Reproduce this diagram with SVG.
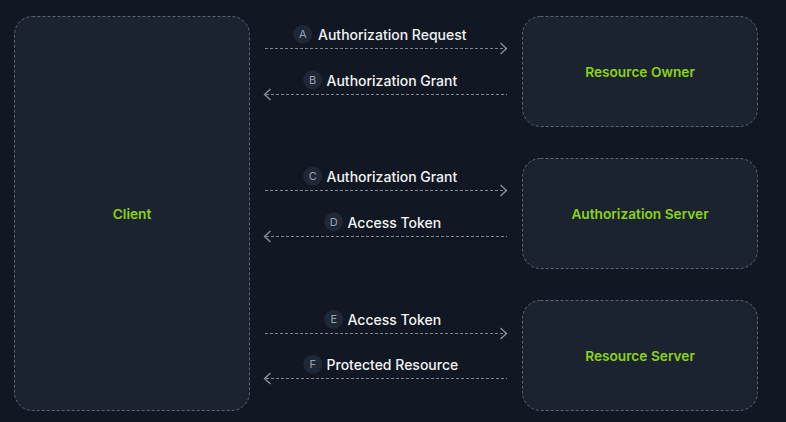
<svg xmlns="http://www.w3.org/2000/svg" width="786" height="422" viewBox="0 0 786 422">
<style>
.bg{fill:#111824}
.node rect{fill:#1b2331;stroke:#5b6575;stroke-width:1;stroke-dasharray:3 2}
.node text{fill:#8cd412;font-family:Inter,"Liberation Sans",sans-serif;font-size:13.7px;font-weight:600;text-anchor:middle;dominant-baseline:central}
.conn line{stroke:#7b8594;stroke-width:1;stroke-dasharray:3 2}
.conn path{fill:none;stroke:#8a94a3;stroke-width:1.3}
.badge circle{fill:#1f2836}
.badge text{fill:#9aa3b2;font-family:Inter,"Liberation Sans",sans-serif;font-size:11px;text-anchor:middle;dominant-baseline:central}
.lbl{fill:#f1f3f5;font-family:Inter,"Liberation Sans",sans-serif;font-size:14px;font-weight:500}
</style>
<rect class="bg" x="0" y="0" width="786" height="422"/>
<g id="client" class="node"><rect x="14.5" y="16.5" width="235" height="394" rx="18"/><text x="132" y="213.5">Client</text></g>
<g id="resource-owner" class="node"><rect x="522.5" y="16.5" width="235" height="110" rx="18"/><text x="640" y="71.5">Resource Owner</text></g>
<g id="authorization-server" class="node"><rect x="522.5" y="158.5" width="235" height="110" rx="18"/><text x="640" y="213.5">Authorization Server</text></g>
<g id="resource-server" class="node"><rect x="522.5" y="300.5" width="235" height="110" rx="18"/><text x="640" y="355.5">Resource Server</text></g>
<g id="connectors" class="conn">
<line x1="265" y1="48.5" x2="506" y2="48.5"/><path d="M500.5 43 L506.5 48.5 L500.5 54"/>
<line x1="266" y1="94.5" x2="507" y2="94.5"/><path d="M270.5 89 L264.5 94.5 L270.5 100"/>
<line x1="265" y1="190.5" x2="506" y2="190.5"/><path d="M500.5 185 L506.5 190.5 L500.5 196"/>
<line x1="266" y1="236.5" x2="507" y2="236.5"/><path d="M270.5 231 L264.5 236.5 L270.5 242"/>
<line x1="265" y1="333.5" x2="506" y2="333.5"/><path d="M500.5 328 L506.5 333.5 L500.5 339"/>
<line x1="266" y1="378.5" x2="507" y2="378.5"/><path d="M270.5 373 L264.5 378.5 L270.5 384"/>
</g>
<g id="labels">
<g class="badge"><circle cx="302.7" cy="34.3" r="9.5"/><text x="302.7" y="34.3">A</text></g><text class="lbl" x="318" y="40">Authorization Request</text>
<g class="badge"><circle cx="312.7" cy="79.8" r="9.5"/><text x="312.7" y="79.8">B</text></g><text class="lbl" x="326.5" y="85.5">Authorization Grant</text>
<g class="badge"><circle cx="312.7" cy="176.3" r="9.5"/><text x="312.7" y="176.3">C</text></g><text class="lbl" x="326.5" y="182">Authorization Grant</text>
<g class="badge"><circle cx="333.7" cy="221.8" r="9.5"/><text x="333.7" y="221.8">D</text></g><text class="lbl" x="347.5" y="227.5">Access Token</text>
<g class="badge"><circle cx="333.7" cy="319.3" r="9.5"/><text x="333.7" y="319.3">E</text></g><text class="lbl" x="347.5" y="325">Access Token</text>
<g class="badge"><circle cx="312.7" cy="364.3" r="9.5"/><text x="312.7" y="364.3">F</text></g><text class="lbl" x="326.5" y="370">Protected Resource</text>
</g>
</svg>
